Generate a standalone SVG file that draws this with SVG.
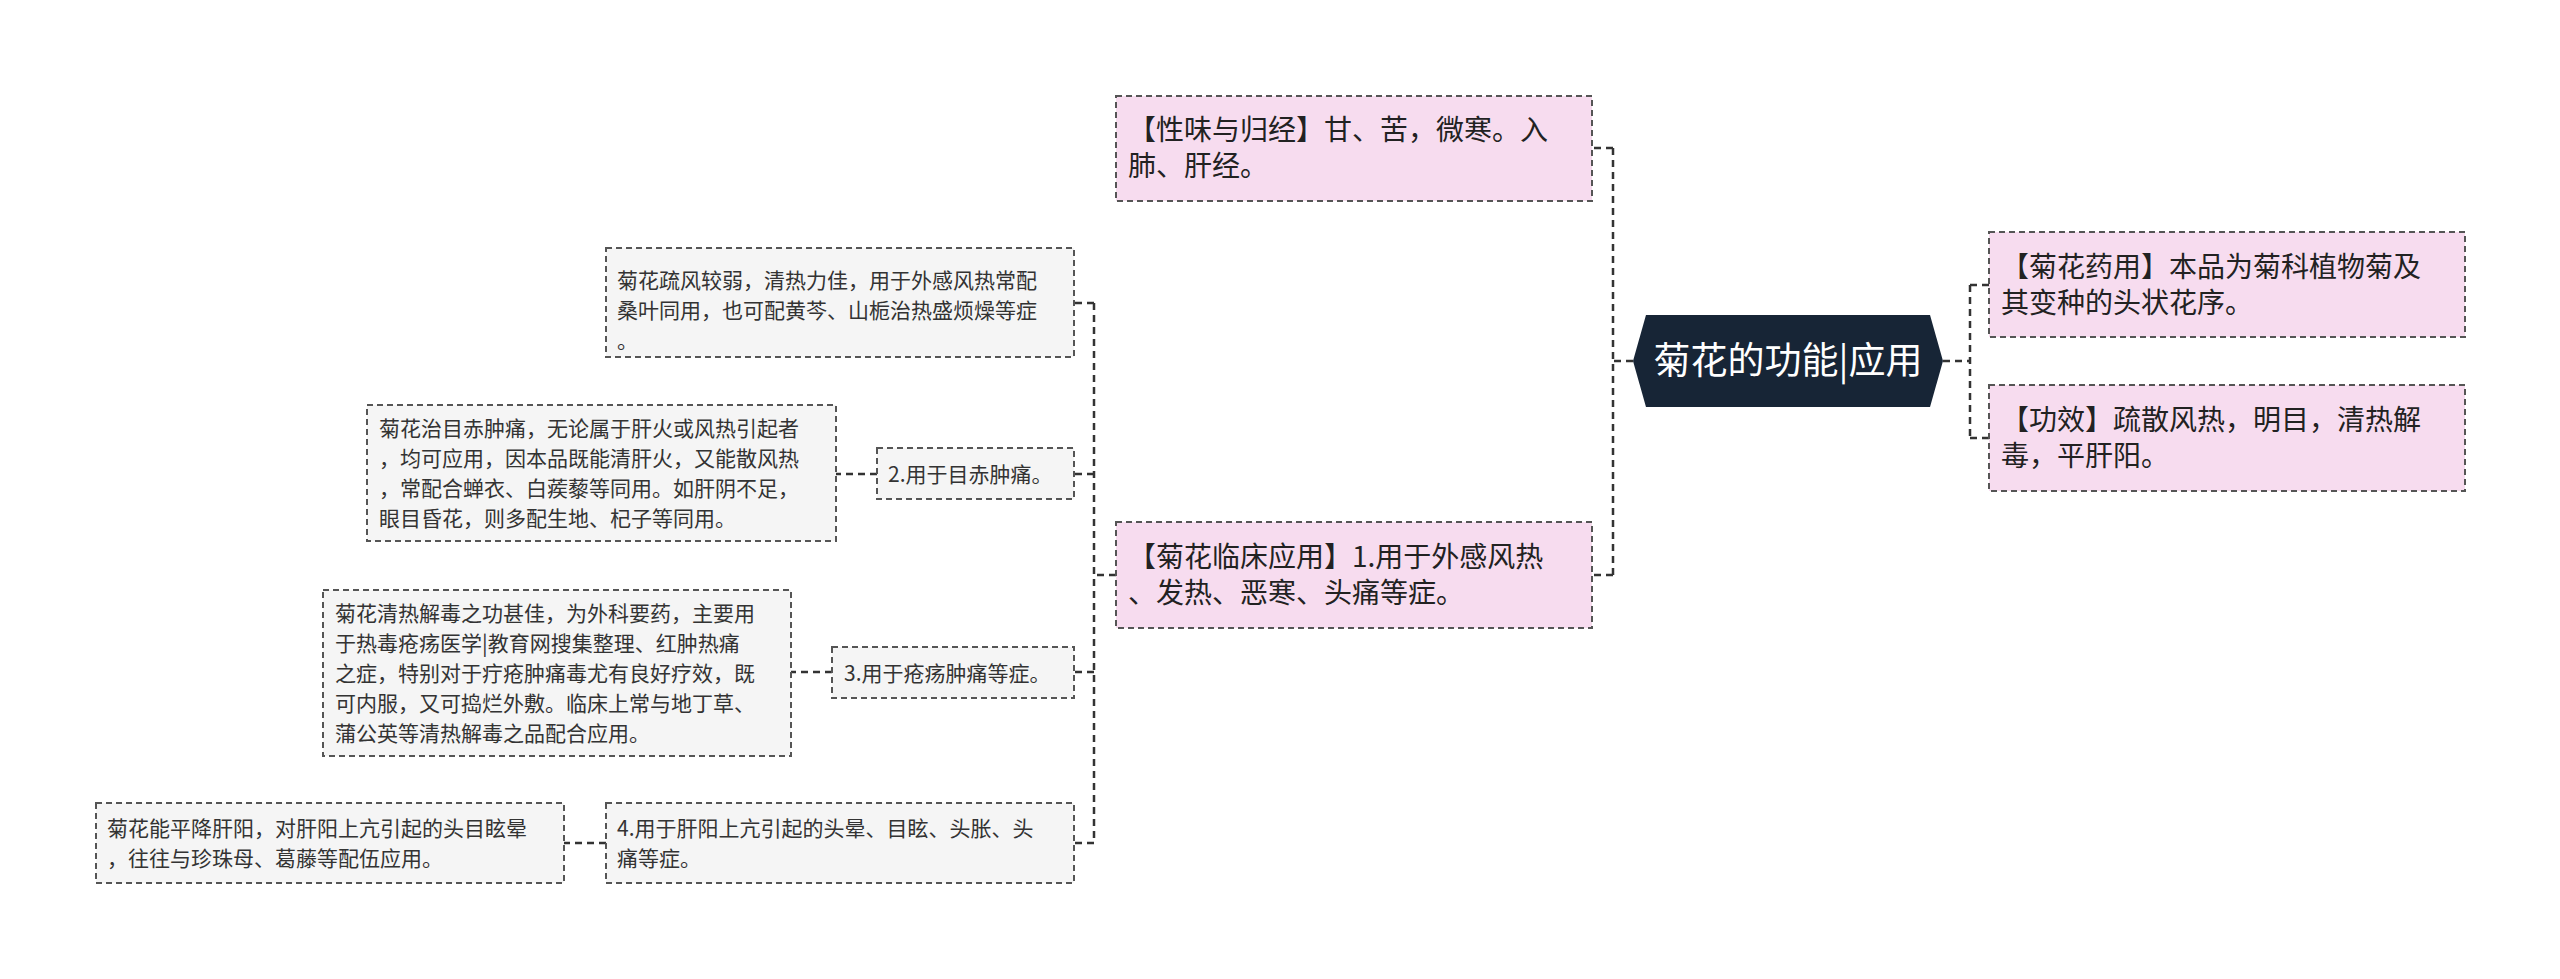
<svg xmlns="http://www.w3.org/2000/svg" width="2560" height="979" viewBox="0 0 2560 979">
<style>
.p{fill:#f7dcef;stroke:#555;stroke-width:2;stroke-dasharray:6,4}
.g{fill:#f5f5f5;stroke:#555;stroke-width:2;stroke-dasharray:6,4}
.c{fill:none;stroke:#333;stroke-width:2.5;stroke-dasharray:7,5}
.tp{font-family:"Noto Sans CJK SC","Noto Sans",sans-serif;font-size:28px;fill:#222}
.tg{font-family:"Noto Sans CJK SC","Noto Sans",sans-serif;font-size:21px;fill:#333}
.tc{font-family:"Noto Sans CJK SC","Noto Sans",sans-serif;font-size:37px;fill:#fff}
</style>
<rect width="2560" height="979" fill="#fff"/>
<g id="connectors">
<path class="c" d="M1633 361H1613M1613 148V575M1613 148H1592M1613 575H1592"/>
<path class="c" d="M1943 361H1970M1970 285V438M1970 285H1989M1970 438H1989"/>
<path class="c" d="M1116 575H1094M1094 303V843M1094 303H1074M1094 474H1074M1094 672H1074M1094 843H1074"/>
<path class="c" d="M877 474H836M832 672H791M606 843H564"/>
</g>
<g id="root"><polygon points="1633,361 1646,315 1930,315 1943,361 1930,407 1646,407" fill="#172536"/><text class="tc" x="1788" y="374" text-anchor="middle">菊花的功能|应用</text></g>
<g id="n1"><rect class="p" x="1116" y="96" width="476" height="105"/><text class="tp" x="1128" y="140">【性味与归经】甘、苦，微寒。入</text><text class="tp" x="1128" y="176">肺、肝经。</text></g>
<g id="n2"><rect class="p" x="1116" y="522" width="476" height="106"/><text class="tp" x="1128" y="567">【菊花临床应用】1.用于外感风热</text><text class="tp" x="1128" y="603">、发热、恶寒、头痛等症。</text></g>
<g id="n3"><rect class="p" x="1989" y="232" width="476" height="105"/><text class="tp" x="2001" y="277">【菊花药用】本品为菊科植物菊及</text><text class="tp" x="2001" y="313">其变种的头状花序。</text></g>
<g id="n4"><rect class="p" x="1989" y="385" width="476" height="106"/><text class="tp" x="2001" y="430">【功效】疏散风热，明目，清热解</text><text class="tp" x="2001" y="466">毒，平肝阳。</text></g>
<g id="a"><rect class="g" x="606" y="248" width="468" height="109"/><text class="tg" x="617" y="288">菊花疏风较弱，清热力佳，用于外感风热常配</text><text class="tg" x="617" y="318">桑叶同用，也可配黄芩、山栀治热盛烦燥等症</text><text class="tg" x="617" y="348">。</text></g>
<g id="b2"><rect class="g" x="877" y="448" width="197" height="51"/><text class="tg" x="888" y="482">2.用于目赤肿痛。</text></g>
<g id="b"><rect class="g" x="367" y="405" width="469" height="136"/><text class="tg" x="379" y="436">菊花治目赤肿痛，无论属于肝火或风热引起者</text><text class="tg" x="379" y="466">，均可应用，因本品既能清肝火，又能散风热</text><text class="tg" x="379" y="496">，常配合蝉衣、白蒺藜等同用。如肝阴不足，</text><text class="tg" x="379" y="526">眼目昏花，则多配生地、杞子等同用。</text></g>
<g id="c3"><rect class="g" x="832" y="647" width="242" height="51"/><text class="tg" x="844" y="681">3.用于疮疡肿痛等症。</text></g>
<g id="c"><rect class="g" x="323" y="590" width="468" height="166"/><text class="tg" x="335" y="621">菊花清热解毒之功甚佳，为外科要药，主要用</text><text class="tg" x="335" y="651">于热毒疮疡医学|教育网搜集整理、红肿热痛</text><text class="tg" x="335" y="681">之症，特别对于疔疮肿痛毒尤有良好疗效，既</text><text class="tg" x="335" y="711">可内服，又可捣烂外敷。临床上常与地丁草、</text><text class="tg" x="335" y="741">蒲公英等清热解毒之品配合应用。</text></g>
<g id="d4"><rect class="g" x="606" y="803" width="468" height="80"/><text class="tg" x="617" y="836">4.用于肝阳上亢引起的头晕、目眩、头胀、头</text><text class="tg" x="617" y="866">痛等症。</text></g>
<g id="d"><rect class="g" x="96" y="803" width="468" height="80"/><text class="tg" x="107" y="836">菊花能平降肝阳，对肝阳上亢引起的头目眩晕</text><text class="tg" x="107" y="866">，往往与珍珠母、葛藤等配伍应用。</text></g>
</svg>
